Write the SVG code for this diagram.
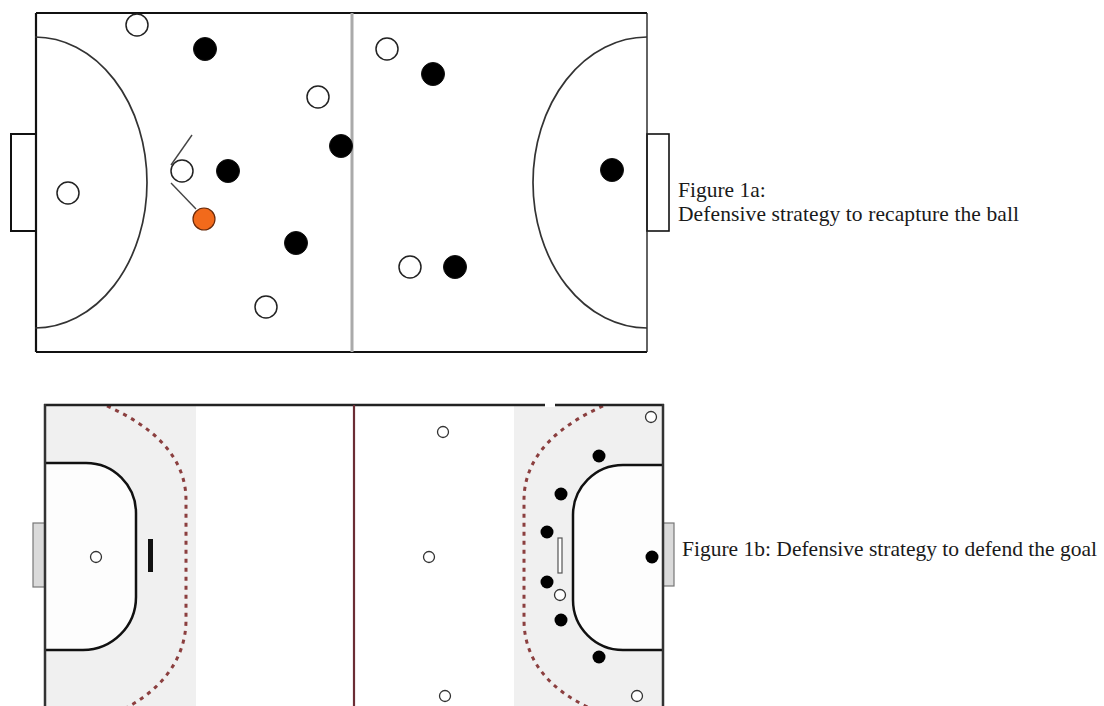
<svg xmlns="http://www.w3.org/2000/svg" width="1104" height="706" viewBox="0 0 1104 706">
<style>
.line{fill:none;stroke:#111;stroke-width:2.2}
.arc{fill:none;stroke:#333;stroke-width:1.7}
.wp{fill:#fff;stroke:#222;stroke-width:1.5}
.bp{fill:#000;stroke:#111;stroke-width:1}
.op{fill:#f26a1b;stroke:#6a2a0a;stroke-width:1.2}
.ws{fill:#fff;stroke:#333;stroke-width:1.3}
.bs{fill:#000}
.goal{fill:#dadada;stroke:#777;stroke-width:1.2}
.dash{fill:none;stroke:#8b3f3f;stroke-width:3;stroke-dasharray:4 5}
.d{fill:#fdfdfd;stroke:#111;stroke-width:2.5}
.lbl{font-family:"Liberation Serif","Times New Roman",serif;font-size:21.5px;fill:#1a1a1a}
.mv{fill:none;stroke:#444;stroke-width:1.4}
</style>
<rect width="1104" height="706" fill="#fff"/>

<!-- Figure 1a -->
<g id="field-1a">
  <rect x="11" y="134" width="25" height="97" fill="#fff" stroke="#111" stroke-width="2"/>
  <rect x="647" y="134" width="22" height="97" fill="#fff" stroke="#111" stroke-width="1.6"/>
  <line x1="36" y1="13" x2="647" y2="13" class="line"/>
  <line x1="36" y1="352" x2="647" y2="352" class="line"/>
  <line x1="36" y1="13" x2="36" y2="352" class="line"/>
  <line x1="647" y1="13" x2="647" y2="352" stroke="#222" stroke-width="1.4"/>
  <line x1="352" y1="13" x2="352" y2="352" stroke="#aaa" stroke-width="3"/>
  <path class="arc" d="M35,37 A112,145.5 0 0 1 35,328"/>
  <path class="arc" d="M647,37 A114,145.5 0 0 0 647,328"/>
</g>
<g id="connectors">
  <line class="mv" x1="171" y1="165" x2="192" y2="135"/>
  <line class="mv" x1="171" y1="183" x2="196" y2="209"/>
</g>
<g id="players-1a">
  <g id="w1"><circle class="wp" cx="137" cy="25" r="11"/></g>
  <g id="w2"><circle class="wp" cx="68" cy="193" r="11"/></g>
  <g id="w3"><circle class="wp" cx="182" cy="171" r="11"/></g>
  <g id="w4"><circle class="wp" cx="318" cy="97" r="11"/></g>
  <g id="w5"><circle class="wp" cx="266" cy="307" r="11"/></g>
  <g id="w6"><circle class="wp" cx="387" cy="49" r="11"/></g>
  <g id="w7"><circle class="wp" cx="410" cy="267" r="11"/></g>
  <g id="b1"><circle class="bp" cx="205" cy="49" r="11.5"/></g>
  <g id="b2"><circle class="bp" cx="228" cy="171" r="11.5"/></g>
  <g id="b3"><circle class="bp" cx="341" cy="146" r="11.5"/></g>
  <g id="b4"><circle class="bp" cx="296" cy="243" r="11.5"/></g>
  <g id="b5"><circle class="bp" cx="433" cy="74" r="11.5"/></g>
  <g id="b6"><circle class="bp" cx="455" cy="267" r="11.5"/></g>
  <g id="b7"><circle class="bp" cx="612" cy="170" r="11.5"/></g>
  <g id="ball"><circle class="op" cx="204" cy="219" r="11"/></g>
</g>
<g id="label-1a">
  <text class="lbl" x="678" y="197">Figure 1a:</text>
  <text class="lbl" x="678" y="221" textLength="341">Defensive strategy to recapture the ball</text>
</g>

<!-- Figure 1b -->
<g id="field-1b">
  <rect x="46" y="406" width="150" height="300" fill="#f0f0f0"/>
  <rect x="514" y="406" width="148" height="300" fill="#f0f0f0"/>
  <rect x="33" y="523" width="12" height="64" class="goal"/>
  <rect x="663" y="523" width="11" height="63" class="goal"/>
  <path class="d" d="M45,463 L86,463 A50,50 0 0 1 136,513 L136,597 A53,53 0 0 1 83,650 L45,650"/>
  <path class="d" d="M663,465 L623,465 A50,50 0 0 0 573,515 L573,600 A50,50 0 0 0 623,650 L663,650"/>
  <path class="dash" d="M107,406 C150,425 186,455 186,500 L186,620 C186,660 160,690 126,708"/>
  <path class="dash" d="M603,406 C560,425 524,455 524,500 L524,620 C524,660 550,690 590,708"/>
  <line x1="44" y1="405" x2="664" y2="405" stroke="#222" stroke-width="2.5"/>
  <rect x="545" y="403" width="10" height="4" fill="#fff"/>
  <line x1="45" y1="404" x2="45" y2="706" stroke="#333" stroke-width="2.5"/>
  <line x1="663" y1="404" x2="663" y2="706" stroke="#333" stroke-width="2.5"/>
  <line x1="354" y1="405" x2="354" y2="706" stroke="#6b2d35" stroke-width="2.2"/>
  <rect x="148" y="539" width="5" height="33" fill="#111"/>
  <rect x="558" y="538" width="4" height="35" fill="#fff" stroke="#555" stroke-width="1.2"/>
</g>
<g id="players-1b">
  <g id="bw1"><circle class="ws" cx="96" cy="557" r="5.5"/></g>
  <g id="bw2"><circle class="ws" cx="443" cy="432" r="5.5"/></g>
  <g id="bw3"><circle class="ws" cx="651" cy="417" r="5.5"/></g>
  <g id="bw4"><circle class="ws" cx="429" cy="557" r="5.5"/></g>
  <g id="bw5"><circle class="ws" cx="560" cy="595" r="5.5"/></g>
  <g id="bw6"><circle class="ws" cx="445" cy="696" r="5.5"/></g>
  <g id="bw7"><circle class="ws" cx="637" cy="696" r="5.5"/></g>
  <g id="bb1"><circle class="bs" cx="599" cy="456" r="6.5"/></g>
  <g id="bb2"><circle class="bs" cx="561" cy="494" r="6.5"/></g>
  <g id="bb3"><circle class="bs" cx="547" cy="532" r="6.5"/></g>
  <g id="bb4"><circle class="bs" cx="547" cy="582" r="6.5"/></g>
  <g id="bb5"><circle class="bs" cx="561" cy="620" r="6.5"/></g>
  <g id="bb6"><circle class="bs" cx="599" cy="657" r="6.5"/></g>
  <g id="bb7"><circle class="bs" cx="652" cy="557" r="6.5"/></g>
</g>
<g id="label-1b">
  <text class="lbl" x="682" y="556">Figure 1b: Defensive strategy to defend the goal</text>
</g>
</svg>
